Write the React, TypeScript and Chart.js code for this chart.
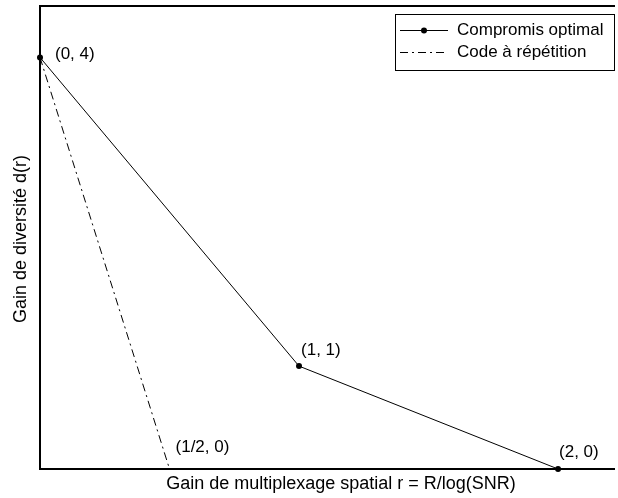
import React, { useEffect, useRef } from "react";
import { Chart, registerables } from "chart.js";

Chart.register(...registerables);

const optimalX = [0, 1, 2];
const optimalY = [4, 1, 0];
const repetitionX = [0, 0.5];
const repetitionY = [4, 0];
const seriesNames = ["Compromis optimal", "Code à répétition"];
const pointLabels = ["(0, 4)", "(1, 1)", "(2, 0)", "(1/2, 0)"];
const pointLabelX = [0, 1, 2, 0.5];
const pointLabelY = [4, 1, 0, 0];
const xTitle = "Gain de multiplexage spatial r = R/log(SNR)";
const yTitle = "Gain de diversité d(r)";

const FONT = '"Liberation Sans", Arial, sans-serif';
const labelOffsets = [
  [15, -3],
  [2, -16],
  [1, -17],
  [6, -22],
];
const DASHDOT = [8, 4, 2, 4];

const decorPlugin = {
  id: "decor",
  afterDatasetsDraw(chart: any) {
    const { ctx, chartArea, scales } = chart;
    const { left, top, right, bottom } = chartArea;
    ctx.save();
    // frame (left, top, bottom)
    ctx.fillStyle = "#000";
    ctx.fillRect(left - 1, top - 1, 2, bottom - top + 2);
    ctx.fillRect(left - 1, top - 1, right - left + 2, 2);
    ctx.fillRect(left - 1, bottom - 1, right - left + 2, 2);

    // point labels
    ctx.font = `17px ${FONT}`;
    ctx.textBaseline = "middle";
    ctx.textAlign = "left";
    ctx.fillStyle = "#000";
    pointLabels.forEach((t, i) => {
      const px = scales.x.getPixelForValue(pointLabelX[i]);
      const py = scales.y.getPixelForValue(pointLabelY[i]);
      ctx.fillText(t, px + labelOffsets[i][0], py + labelOffsets[i][1]);
    });

    // axis titles
    ctx.font = `18px ${FONT}`;
    ctx.textAlign = "center";
    ctx.fillText(xTitle, 341, 484);
    ctx.save();
    ctx.translate(21, 239);
    ctx.rotate(-Math.PI / 2);
    ctx.fillText(yTitle, 0, 0);
    ctx.restore();

    // legend
    const bx = 395, by = 14, bw = 219, bh = 56;
    ctx.fillStyle = "#fff";
    ctx.fillRect(bx, by, bw, bh);
    ctx.strokeStyle = "#000";
    ctx.lineWidth = 1;
    ctx.strokeRect(bx + 0.5, by + 0.5, bw, bh);
    const rows = [by + 16, by + 38];
    const lx0 = bx + 5, lx1 = bx + 53;
    ctx.font = `17px ${FONT}`;
    ctx.textAlign = "left";
    ctx.fillStyle = "#000";
    // row 1
    ctx.beginPath();
    ctx.setLineDash([]);
    ctx.moveTo(lx0, rows[0] + 0.5);
    ctx.lineTo(lx1, rows[0] + 0.5);
    ctx.stroke();
    ctx.beginPath();
    ctx.arc((lx0 + lx1) / 2, rows[0] + 0.5, 3, 0, Math.PI * 2);
    ctx.fill();
    ctx.fillText(seriesNames[0], lx1 + 9, rows[0]);
    // row 2
    ctx.beginPath();
    ctx.setLineDash(DASHDOT);
    ctx.moveTo(lx0, rows[1] + 0.5);
    ctx.lineTo(lx1, rows[1] + 0.5);
    ctx.stroke();
    ctx.setLineDash([]);
    ctx.fillText(seriesNames[1], lx1 + 9, rows[1]);
    ctx.restore();
  },
};

export default function App() {
  const ref = useRef<HTMLCanvasElement | null>(null);
  useEffect(() => {
    if (!ref.current) return;
    const chart = new Chart(ref.current, {
      type: "scatter",
      data: {
        datasets: [
          {
            label: seriesNames[0],
            data: optimalX.map((x, i) => ({ x, y: optimalY[i] })),
            showLine: true,
            borderColor: "#000",
            backgroundColor: "#000",
            borderWidth: 1,
            pointRadius: 3,
            pointBorderWidth: 0,
            clip: false as any,
          },
          {
            label: seriesNames[1],
            data: repetitionX.map((x, i) => ({ x, y: repetitionY[i] })),
            showLine: true,
            borderColor: "#000",
            backgroundColor: "#000",
            borderWidth: 1,
            borderDash: DASHDOT,
            pointRadius: 0,
            clip: false as any,
          },
        ],
      },
      options: {
        animation: false,
        responsive: false,
        layout: { padding: { left: 40, top: 6, right: 0, bottom: 29 } },
        plugins: { legend: { display: false }, tooltip: { enabled: false } },
        scales: {
          x: { type: "linear", min: 0, max: 2.216, display: false },
          y: { type: "linear", min: 0, max: 4.5, display: false },
        },
      },
      plugins: [decorPlugin],
    });
    return () => chart.destroy();
  }, []);
  return (
    <div style={{ position: "fixed", left: 0, top: 0, width: 618, height: 498, background: "#fff" }}>
      <canvas ref={ref} width={618} height={498} style={{ display: "block", width: 618, height: 498 }} />
    </div>
  );
}
